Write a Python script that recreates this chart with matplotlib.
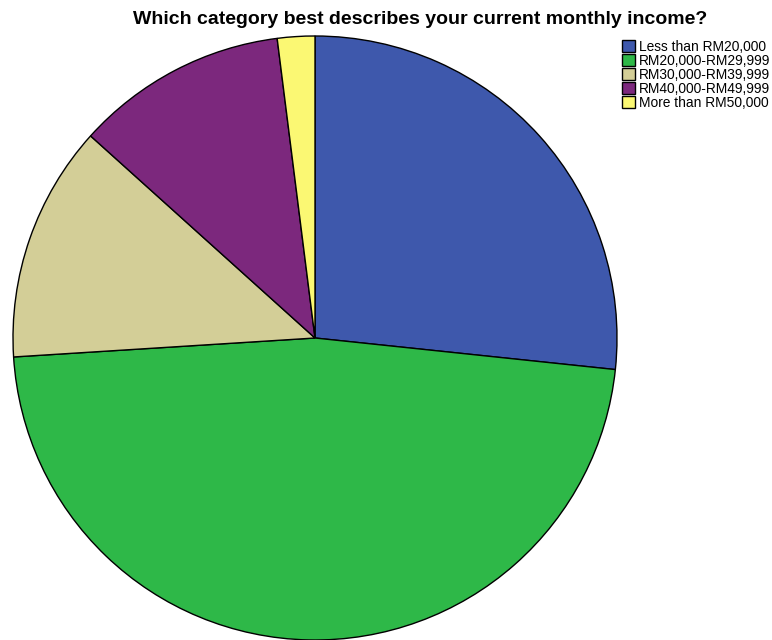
import matplotlib
matplotlib.use("Agg")
import matplotlib.pyplot as plt

categories = ["Less than RM20,000", "RM20,000-RM29,999", "RM30,000-RM39,999",
              "RM40,000-RM49,999", "More than RM50,000"]
counts = [40, 71, 19, 17, 3]
colors = ["#3E58AC", "#2EB848", "#D3CE97", "#7C287D", "#FBF873"]

plt.rcParams["font.family"] = ["Liberation Sans", "DejaVu Sans"]

W, H = 772, 640
fig = plt.figure(figsize=(W / 100, H / 100), dpi=100)

cx, cy, r = 315, 338, 302
ax = fig.add_axes([(cx - r) / W, (H - cy - r) / H, 2 * r / W, 2 * r / H])
wedges, _ = ax.pie(counts, colors=colors, startangle=90, counterclock=False,
                   wedgeprops=dict(edgecolor="black", linewidth=1.0))
for w in wedges:
    w.set_clip_on(False)
ax.set_xlim(-1, 1)
ax.set_ylim(-1, 1)
ax.set_aspect("equal")
ax.axis("off")

fig.text(420 / W, 1 - 19 / H, "Which category best describes your current monthly income?",
         ha="center", va="center", fontsize=14, fontweight="bold")

fig.legend(wedges, categories, loc="upper left", bbox_to_anchor=(619 / W, 1 - 37 / H),
           frameon=False, fontsize=9.9, handlelength=0.95, handleheight=0.95,
           handletextpad=0.3, labelspacing=0.0, borderpad=0.2, borderaxespad=0)

fig.savefig("out.png", dpi=100)
